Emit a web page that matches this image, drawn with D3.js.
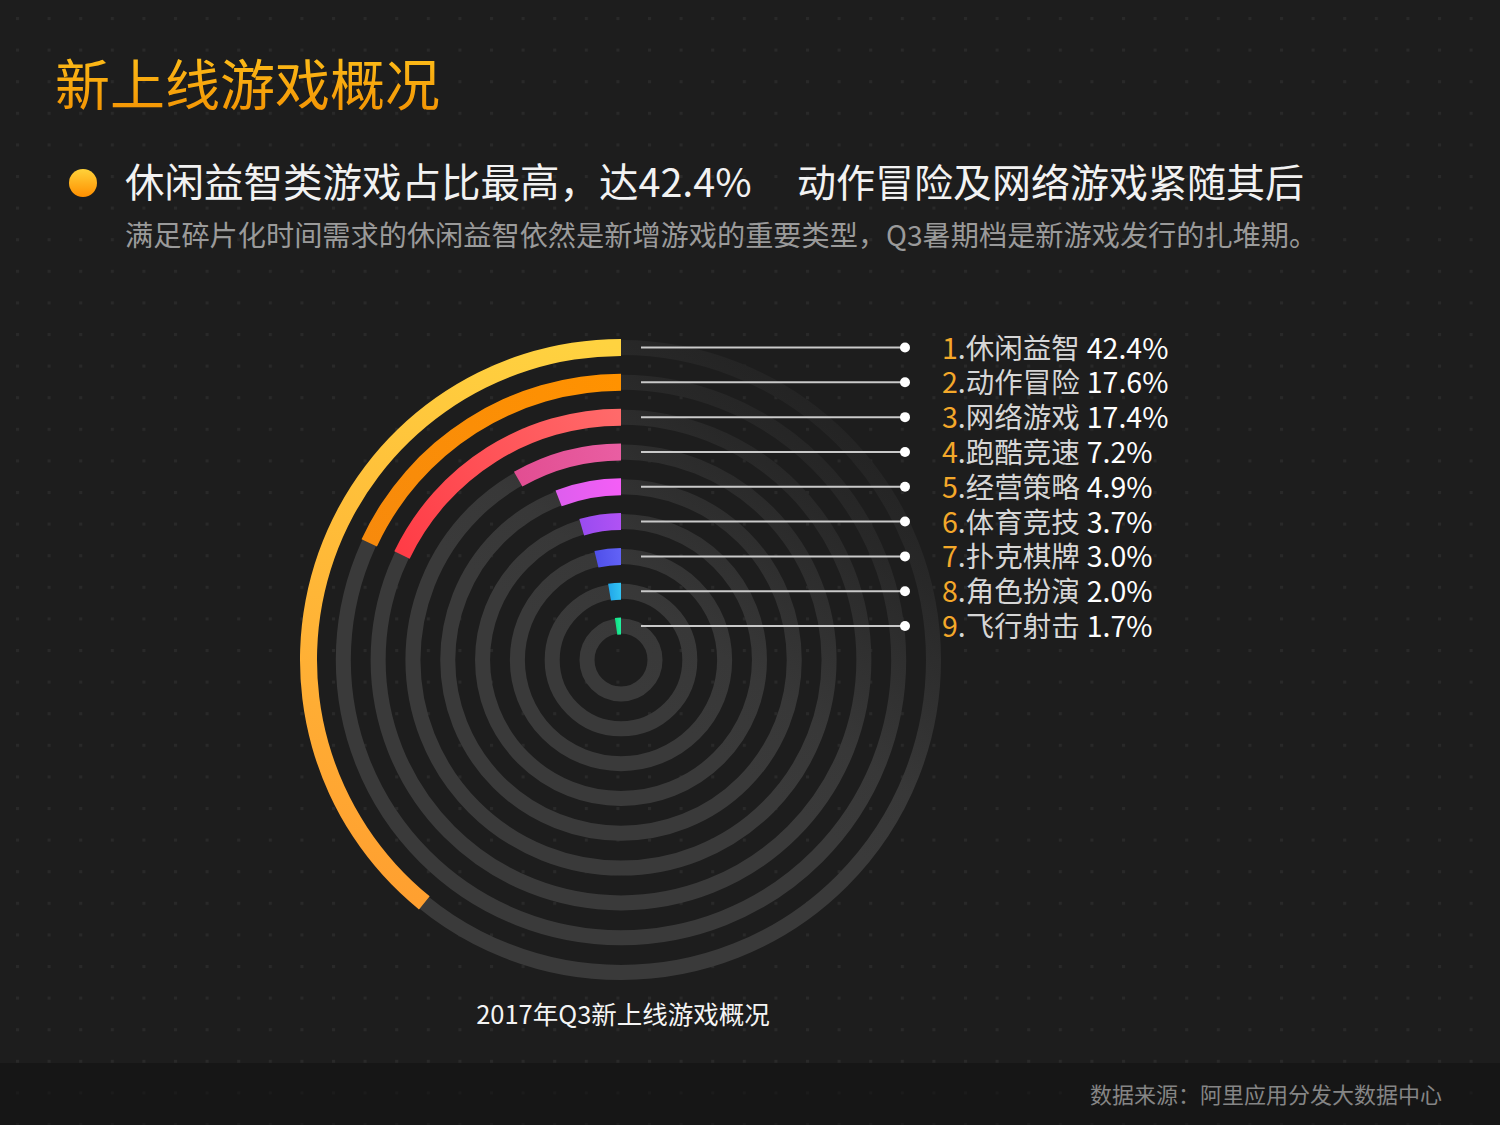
<!DOCTYPE html>
<html>
<head>
<meta charset="utf-8">
<script src="https://cdn.jsdelivr.net/npm/d3@7"></script>
<style>
  body { margin: 0; background: #1d1d1d; }
  svg { display: block; }
  text { font-family: "Noto Sans CJK SC", "Noto Sans", sans-serif; }
</style>
</head>
<body>
<div class="container_main"></div>
<script>
// data
const categories = ["休闲益智", "动作冒险", "网络游戏", "跑酷竞速", "经营策略", "体育竞技", "扑克棋牌", "角色扮演", "飞行射击"];
const shares = [42.4, 17.6, 17.4, 7.2, 4.9, 3.7, 3.0, 2.0, 1.7];
const colorStart = ["#ffd340", "#ff9200", "#ff6a6a", "#e95ea2", "#f45ef6", "#b052f4", "#6262f6", "#33c3f2", "#22f0a0"];
const colorEnd   = ["#ffa030", "#f78a0c", "#ff3c46", "#e24e92", "#de5eee", "#9a4cf0", "#5050ea", "#22a8ea", "#12e084"];

const title = "新上线游戏概况";
const headline1 = "休闲益智类游戏占比最高，达42.4%";
const headline2 = "动作冒险及网络游戏紧随其后";
const note = "满足碎片化时间需求的休闲益智依然是新增游戏的重要类型，Q3暑期档是新游戏发行的扎堆期。";
const caption = "2017年Q3新上线游戏概况";
const source = "数据来源：阿里应用分发大数据中心";

const plotChart = function() {
    const width = 1500, height = 1125;
    const cx = 621, cy = 660;

    const svg = d3.select(".container_main")
      .append("svg")
      .attr("width", width)
      .attr("height", height);
    const defs = svg.append("defs");

    // background + dotted grid
    svg.append("rect").attr("width", width).attr("height", height).attr("fill", "#1d1d1d");
    const pat = defs.append("pattern")
      .attr("id", "dots")
      .attr("patternUnits", "userSpaceOnUse")
      .attr("x", 16).attr("y", 17)
      .attr("width", 31.6).attr("height", 31.6);
    pat.append("rect").attr("width", 3).attr("height", 3).attr("fill", "#292929");
    svg.append("rect").attr("width", width).attr("height", height).attr("fill", "url(#dots)");
    // footer band
    svg.append("rect").attr("y", 1063).attr("width", width).attr("height", height - 1063)
      .attr("fill", "#111").attr("opacity", 0.55);

    // title
    const tg = defs.append("linearGradient").attr("id", "titleGrad")
      .attr("x1", 0).attr("y1", 0).attr("x2", 0).attr("y2", 1);
    tg.append("stop").attr("offset", "0%").attr("stop-color", "#ffc61e");
    tg.append("stop").attr("offset", "100%").attr("stop-color", "#f28e00");
    svg.append("text")
      .attr("x", 55).attr("y", 105)
      .attr("font-size", 55)
      .attr("fill", "url(#titleGrad)")
      .text(title);

    // bullet + headline
    const bg = defs.append("linearGradient").attr("id", "bulletGrad")
      .attr("x1", 0).attr("y1", 0).attr("x2", 0).attr("y2", 1);
    bg.append("stop").attr("offset", "0%").attr("stop-color", "#ffd23a");
    bg.append("stop").attr("offset", "100%").attr("stop-color", "#ff8f00");
    svg.append("circle").attr("cx", 83).attr("cy", 183).attr("r", 14).attr("fill", "url(#bulletGrad)");
    svg.append("text").attr("x", 125).attr("y", 197).attr("font-size", 39.5).attr("fill", "#f2f2f2").text(headline1);
    svg.append("text").attr("x", 797).attr("y", 197).attr("font-size", 39).attr("fill", "#f2f2f2").text(headline2);
    svg.append("text").attr("x", 125).attr("y", 246).attr("font-size", 28.2).attr("fill", "#9a9a9a").text(note);

    // scales
    const idx = d3.range(categories.length);
    const radius = d3.scaleLinear().domain([0, categories.length - 1]).range([312.5, 34]);
    const angle = d3.scalePow().exponent(0.88)
      .domain([0, d3.max(shares)])
      .range([0, 141 * Math.PI / 180]);

    const g = svg.append("g").attr("transform", "translate(" + cx + "," + cy + ")");

    // grey tracks, fading towards the upper right
    const trackGrad = defs.append("linearGradient").attr("id", "trackGrad")
      .attr("gradientUnits", "userSpaceOnUse")
      .attr("x1", 240).attr("y1", -300).attr("x2", 0).attr("y2", 20);
    trackGrad.append("stop").attr("offset", "0%").attr("stop-color", "#202020");
    trackGrad.append("stop").attr("offset", "35%").attr("stop-color", "#282828");
    trackGrad.append("stop").attr("offset", "80%").attr("stop-color", "#383838");
    trackGrad.append("stop").attr("offset", "100%").attr("stop-color", "#3a3a3a");

    g.selectAll(".track")
      .data(idx)
      .enter()
        .append("circle")
          .attr("class", "track")
          .attr("r", function(i) { return radius(i); })
          .attr("fill", "none")
          .attr("stroke", "url(#trackGrad)")
          .attr("stroke-width", 15);

    // colored bars, counter-clockwise from 12 o'clock
    idx.forEach(function(i) {
        const r = radius(i), a = angle(shares[i]);
        const gr = defs.append("linearGradient").attr("id", "bar" + i)
          .attr("gradientUnits", "userSpaceOnUse")
          .attr("x1", 0).attr("y1", -r)
          .attr("x2", -r * Math.sin(a)).attr("y2", -r * Math.cos(a));
        gr.append("stop").attr("offset", "0%").attr("stop-color", colorStart[i]);
        gr.append("stop").attr("offset", "100%").attr("stop-color", colorEnd[i]);
    });

    const arc = d3.arc()
      .innerRadius(function(i) { return radius(i) - 8.5; })
      .outerRadius(function(i) { return radius(i) + 8.5; })
      .startAngle(0)
      .endAngle(function(i) { return -angle(shares[i]); });

    g.selectAll(".bar")
      .data(idx)
      .enter()
        .append("path")
          .attr("class", "bar")
          .attr("d", arc)
          .attr("fill", function(i) { return "url(#bar" + i + ")"; });

    // leader lines
    g.selectAll(".leader")
      .data(idx)
      .enter()
        .append("line")
          .attr("class", "leader")
          .attr("x1", 20).attr("x2", 284)
          .attr("y1", function(i) { return -radius(i); })
          .attr("y2", function(i) { return -radius(i); })
          .attr("stroke", "#c9c9c9")
          .attr("stroke-width", 2);
    g.selectAll(".leaderDot")
      .data(idx)
      .enter()
        .append("circle")
          .attr("class", "leaderDot")
          .attr("cx", 284)
          .attr("cy", function(i) { return -radius(i); })
          .attr("r", 5)
          .attr("fill", "#ffffff");

    // labels
    const lab = g.selectAll(".label")
      .data(idx)
      .enter()
        .append("text")
          .attr("class", "label")
          .attr("x", 321)
          .attr("y", function(i) { return -radius(i) + 11; })
          .attr("font-size", 28.5);
    lab.append("tspan").attr("fill", "#f4a82a").text(function(i) { return (i + 1); });
    lab.append("tspan").attr("fill", "#d6d6d6").text(function(i) { return "." + categories[i]; });
    lab.append("tspan").attr("fill", "#ffffff").attr("dx", 7).text(function(i) { return shares[i].toFixed(1) + "%"; });

    // caption + source
    svg.append("text")
      .attr("x", 623).attr("y", 1024)
      .attr("text-anchor", "middle")
      .attr("font-size", 25.5)
      .attr("fill", "#f4f4f4")
      .text(caption);
    svg.append("text")
      .attr("x", 1442).attr("y", 1103)
      .attr("text-anchor", "end")
      .attr("font-size", 22)
      .attr("fill", "#858585")
      .text(source);
};

plotChart();
</script>
</body>
</html>
